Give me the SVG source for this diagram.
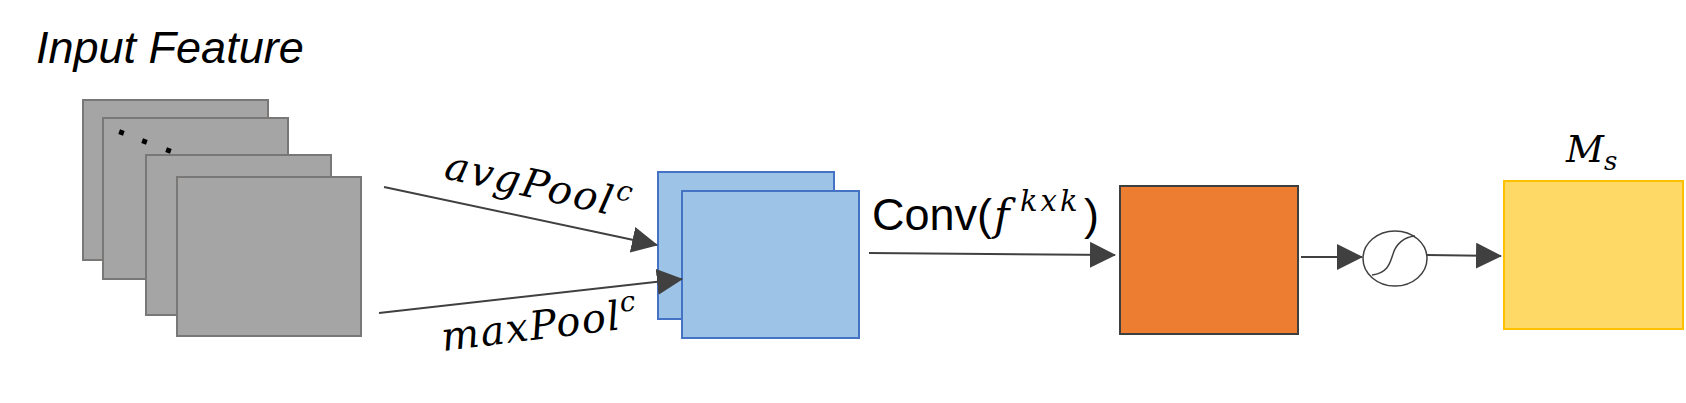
<svg xmlns="http://www.w3.org/2000/svg" width="1686" height="403" viewBox="0 0 1686 403">
<style>
.feat{fill:#a5a5a5;stroke:#7a7777;stroke-width:2}
.blue{fill:#9dc3e6;stroke:#4472c4;stroke-width:2}
.conn{stroke:#404040;stroke-width:2;fill:none;marker-end:url(#arr)}
.sans{font-family:"Liberation Sans",Arial,sans-serif;fill:#000}
.math{font-family:"DejaVu Serif","Liberation Serif",serif;font-style:italic;fill:#000}
</style>
<defs>
<marker id="arr" viewBox="0 0 26 26" refX="25" refY="13" markerWidth="26" markerHeight="26" markerUnits="userSpaceOnUse" orient="auto">
<path d="M0,0 L26,13 L0,26 z" fill="#404040"/>
</marker>
</defs>
<rect width="1686" height="403" fill="#fff"/>
<g id="input-feature">
<text class="sans" x="36" y="63" font-size="45" font-style="italic">Input Feature</text>
<rect class="feat" x="83" y="100" width="185" height="160"/>
<rect class="feat" x="103" y="118" width="185" height="161"/>
<g fill="#000">
<rect x="119" y="130" width="5" height="5" transform="rotate(20 121.5 132.5)"/>
<rect x="142" y="139" width="5" height="5" transform="rotate(20 144.5 141.5)"/>
<rect x="166" y="148" width="5" height="5" transform="rotate(20 168.5 150.5)"/>
</g>
<rect class="feat" x="146" y="155" width="185" height="160"/>
<rect class="feat" x="177" y="177" width="184" height="159"/>
</g>
<g id="pooled-maps">
<rect class="blue" x="658" y="172" width="176" height="147"/>
<rect class="blue" x="682" y="191" width="177" height="147"/>
</g>
<g id="conv-output">
<rect x="1120" y="186" width="178" height="148" fill="#ed7d31" stroke="#3f3f3f" stroke-width="2"/>
</g>
<g id="sigmoid">
<ellipse cx="1395" cy="258.5" rx="32" ry="27.5" fill="#fff" stroke="#404040" stroke-width="1.5"/>
<path d="M1372,275 C1388,273 1390,263 1393,254 C1396,244 1404,237 1415,236" fill="none" stroke="#404040" stroke-width="1.5"/>
</g>
<g id="ms">
<rect x="1504" y="181" width="179" height="148" fill="#ffd966" stroke="#ffc000" stroke-width="2"/>
<text class="math" x="1566" y="162" font-size="37">M<tspan font-size="26" dy="8">s</tspan></text>
</g>
<g id="connectors">
<line class="conn" x1="384" y1="187" x2="657" y2="245"/>
<line class="conn" x1="379" y1="313" x2="682" y2="279"/>
<line class="conn" x1="869" y1="253" x2="1115" y2="255"/>
<line class="conn" x1="1301" y1="257" x2="1362" y2="257"/>
<line class="conn" x1="1427" y1="255" x2="1501" y2="256"/>
<text class="math" font-size="40" letter-spacing="2" transform="translate(443,178) rotate(12.5)">avgPool<tspan font-size="28" dy="-17" letter-spacing="0">c</tspan></text>
<text class="math" font-size="40" letter-spacing="1.5" transform="translate(443,351) rotate(-7)">maxPool<tspan font-size="28" dy="-17" letter-spacing="0">c</tspan></text>
<text class="sans" x="872" y="230" font-size="45">Conv(</text>
<text class="math" x="994" y="230" font-size="42">f</text>
<text class="math" x="1020" y="211" font-size="29" letter-spacing="3">kxk</text>
<text class="sans" x="1084" y="230" font-size="45">)</text>
</g>
</svg>
